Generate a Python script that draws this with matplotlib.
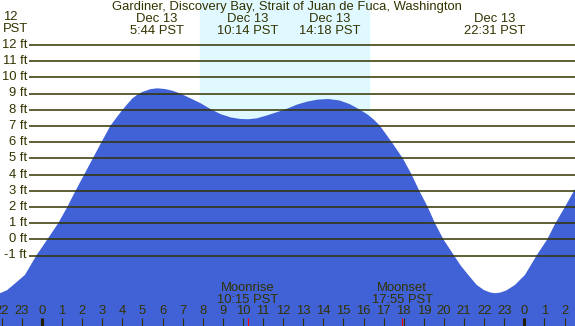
import matplotlib
matplotlib.use('Agg')
import matplotlib.pyplot as plt

# tide curve (hours from midnight Dec 13, feet)
hours = [-2.09, -1.75, -1.43, -0.85, -0.28, 0.27, 0.81, 1.26, 1.67, 2.10,
         2.53, 2.96, 3.40, 3.70, 4.01, 4.25, 4.5, 4.75, 5.0, 5.4, 5.73, 6.1,
         6.5, 6.87, 7.36, 7.86, 8.44, 8.9, 9.4, 9.85, 10.27, 10.7, 11.2, 11.7,
         12.17, 12.7, 13.2, 13.7, 14.24, 14.8, 15.3, 15.75, 16.2, 16.5, 16.82,
         17.4, 17.95, 18.39, 18.77, 19.19, 19.55, 19.97, 20.5, 20.85, 21.21,
         21.63, 22.0, 22.3, 22.54, 22.8, 23.1, 23.53, 24.03, 24.61, 25.14,
         25.55, 26.02, 26.52]
heights = [-3.33, -3.15, -2.82, -2.2, -1.0, 0.0, 1.0, 2.0, 3.0, 4.0,
           5.0, 6.0, 7.0, 7.5, 8.0, 8.35, 8.7, 8.93, 9.1, 9.27, 9.32, 9.28,
           9.17, 9.0, 8.72, 8.42, 8.0, 7.72, 7.52, 7.43, 7.41, 7.47, 7.65, 7.85,
           8.05, 8.32, 8.5, 8.62, 8.66, 8.57, 8.35, 8.05, 7.7, 7.4, 7.0,
           6.0, 5.0, 4.0, 3.0, 2.0, 1.0, 0.0, -1.0, -1.65, -2.2,
           -2.82, -3.14, -3.28, -3.33, -3.29, -3.16, -2.82, -2.2, -1.0, 0.0,
           1.0, 2.0, 3.1]

levels = list(range(-1, 13))
hour_ticks = list(range(-2, 27))
sunrise, sunset = 7.87, 16.27
moonrise, moonset = 10.25, 17.92

extreme_hours = [5.73, 10.23, 14.3, 22.52]
extreme_labels = ['Dec 13\n5:44 PST', 'Dec 13\n10:14 PST', 'Dec 13\n14:18 PST', 'Dec 13\n22:31 PST']

night = '#b0c4de'
day = '#e0f8ff'
water = '#4161d6'
ink = '#333300'
fs = 9.4

plt.rcParams['font.family'] = ['Liberation Sans', 'DejaVu Sans']

# pixel row -> feet (0 ft sits at row 239, 16.2 px per foot)
def py(row):
    return (239.3 - row) / 16.2

fig = plt.figure(figsize=(5.75, 3.26), dpi=100)
ax = fig.add_axes([0, 0, 1, 1])
ax.set_facecolor(night)
ax.set_xlim(-2.09, 26.52)
ax.set_ylim(py(326), py(0))
ax.axis('off')

ax.axvspan(sunrise, sunset, color=day, zorder=1)
ax.fill_between(hours, heights, py(340), color=water, lw=0, zorder=2)

ax.hlines(levels, -0.65, 26.52, color=ink, lw=1.1, zorder=3)
for lv in levels:
    ax.text(-0.75, lv, '%d ft' % lv, ha='right', va='center', fontsize=fs, color=ink)

ax.text(12.2, py(7), 'Gardiner, Discovery Bay, Strait of Juan de Fuca, Washington',
        ha='center', va='center', fontsize=fs, color=ink)
ax.text(-1.95, py(23), '12\nPST', ha='left', va='center', fontsize=fs, color=ink, linespacing=1.0)
for h, lab in zip(extreme_hours, extreme_labels):
    ax.text(h, py(25), lab, ha='center', va='center', fontsize=fs, color=ink, linespacing=1.0)

# hour ticks along the bottom
for h in hour_ticks:
    ax.text(h, py(311.5), str(h % 24), ha='center', va='center', fontsize=fs, color=ink)
    if h % 24 == 0:
        ax.vlines(h, py(326), py(318), color='#202000', lw=2.2, zorder=4)
    else:
        ax.vlines(h, py(326), py(318), color=ink, lw=0.8, zorder=4)
for h, name, t in [(moonrise, 'Moonrise', '10:15 PST'), (moonset, 'Moonset', '17:55 PST')]:
    ax.vlines(h, py(326), py(318), color='red', lw=0.8, zorder=5)
    ax.text(h, py(294), name + '\n' + t, ha='center', va='center', fontsize=fs,
            color=ink, linespacing=1.0)

fig.savefig('out.png', dpi=100)
